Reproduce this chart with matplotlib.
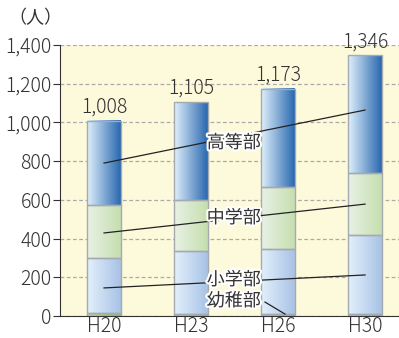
import numpy as np
import matplotlib
matplotlib.use("Agg")
import matplotlib.pyplot as plt
import matplotlib.patheffects as pe
from matplotlib.colors import LinearSegmentedColormap
from matplotlib.patches import Rectangle

plt.rcParams['font.family'] = ['Noto Sans CJK JP', 'DejaVu Sans']

years = ["H20", "H23", "H26", "H30"]
kinder = [14, 10, 12, 8]
elementary = [284, 326, 332, 409]
middle = [275, 263, 321, 320]
totals = [1008, 1105, 1173, 1346]
high = [t - k - e - m for t, k, e, m in zip(totals, kinder, elementary, middle)]

# label lines: y at H20, y at H30
line_high = (790, 1064)
line_mid = (429, 578)
line_elem = (145, 212)

segments = [
    (kinder, ("#b8d89a", "#8fbf6c")),
    (elementary, ("#e2f0fb", "#a9c3e6")),
    (middle, ("#e8f1e6", "#c6dfae")),
    (high, ("#dff0fb", "#2a68b0")),
]

FS = 13
NFS = 14
TXT = "#333333"

fig = plt.figure(figsize=(3.99, 3.38), dpi=100, facecolor='w')
ax = fig.add_axes([60/399, 22/338, 339/399, 271/338])
ax.set_facecolor("#fdf9db")

x = np.arange(len(years))
w = 0.39
grad = np.linspace(0, 1, 64).reshape(1, -1)
bottom = np.zeros(len(years))
for vals, (c1, c2) in segments:
    cmap = LinearSegmentedColormap.from_list("g", [c1, c2])
    for i in range(len(years)):
        b, t = bottom[i], bottom[i] + vals[i]
        ax.imshow(grad, cmap=cmap, aspect='auto', extent=(x[i]-w/2, x[i]+w/2, b, t),
                  zorder=2, interpolation='bilinear')
        ax.add_patch(Rectangle((x[i]-w/2, b), w, vals[i], fill=False,
                               edgecolor="#a3aab0", lw=1.0, zorder=3))
    bottom += np.array(vals)

for i, t in enumerate(totals):
    ax.text(x[i], t + 16, "{:,}".format(t), ha='center', va='bottom',
            fontsize=NFS, color=TXT, zorder=5, fontweight='light')

stroke = [pe.withStroke(linewidth=3, foreground='white')]
for (y0, y1), name, ty in [(line_high, "高等部", 894), (line_mid, "中学部", 506),
                           (line_elem, "小学部", 186)]:
    ax.plot([x[0], x[3]], [y0, y1], color="#222222", lw=0.9, zorder=4)
    ax.text(1.49, ty, name, ha='center', va='center', fontsize=FS,
            color=TXT, zorder=6, path_effects=stroke)
ax.text(1.49, 77, "幼稚部", ha='center', va='center', fontsize=FS,
        color=TXT, zorder=6, path_effects=stroke)
ax.plot([1.85, 2.08], [72, 10], color="#222222", lw=0.9, zorder=4)

ax.set_xlim(-0.506, 3.39)
ax.set_ylim(0, 1400)
ax.set_yticks(range(0, 1401, 200))
ax.set_yticklabels(["{:,}".format(v) for v in range(0, 1401, 200)])
ax.set_xticks(x)
ax.set_xticklabels(years)
ax.tick_params(axis='x', length=0, labelsize=NFS, colors=TXT, pad=0)
ax.tick_params(axis='y', length=5, labelsize=NFS, colors=TXT, pad=1)
for lab in ax.get_xticklabels() + ax.get_yticklabels():
    lab.set_fontweight('light')
ax.grid(axis='y', linestyle=(0, (3, 2)), color="#aaaaaa", lw=0.9, zorder=1)
ax.set_axisbelow(True)
for s in ['top', 'right']:
    ax.spines[s].set_visible(False)
for s in ['left', 'bottom']:
    ax.spines[s].set_color("#333333")
    ax.spines[s].set_zorder(7)

fig.text(35/399, 1 - 18/338, "（人）", ha='center', va='center', fontsize=FS, color=TXT)

fig.savefig("out.png", dpi=100)
